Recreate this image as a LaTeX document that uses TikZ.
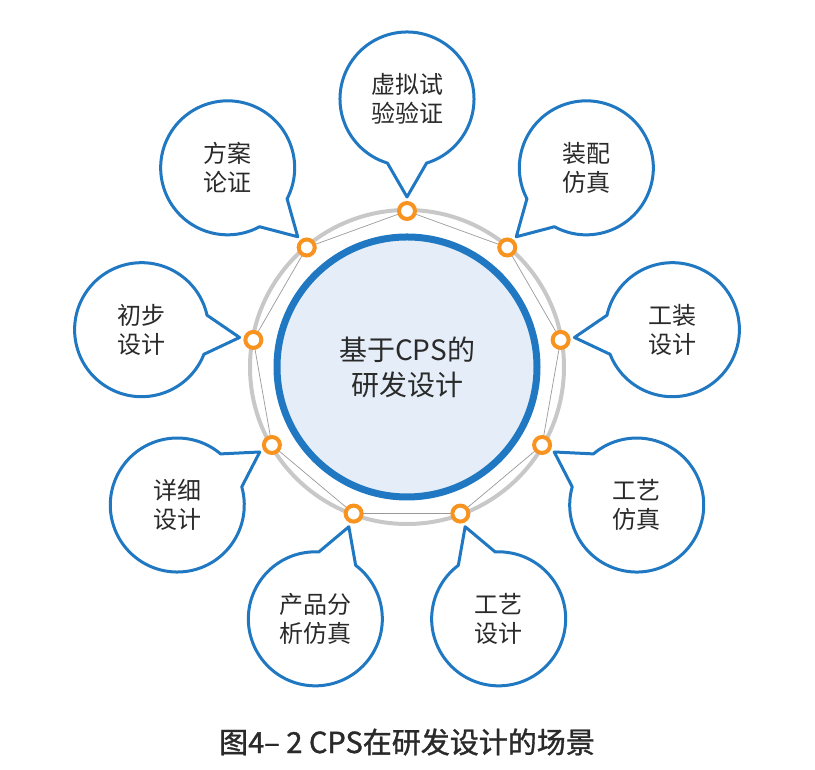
\documentclass[tikz,border=0pt]{standalone}
\usepackage{fontspec}
\newfontfamily\cjk{Noto Sans CJK SC}
\newfontfamily\capcjk{Noto Sans CJK SC}[FakeBold=1.2]
\usetikzlibrary{calc}
\definecolor{BubbleBlue}{HTML}{1F78C1}
\definecolor{JointOrange}{HTML}{F7931E}
\definecolor{RingGray}{HTML}{C8C8C8}
\definecolor{CoreFill}{HTML}{E5EEF8}
\definecolor{TextGray}{HTML}{2A2A2A}

\begin{document}
\begin{tikzpicture}[x=1pt, y=1pt,
    bubble/.style={draw=BubbleBlue, line width=3pt, fill=white, line join=round},
    joint/.style={circle, draw=JointOrange, line width=4pt, fill=white, inner sep=0pt, minimum size=16pt},
    bubtext/.style={font=\cjk\fontsize{24}{29}\selectfont, text=TextGray, align=center}]
    \useasboundingbox (0,0) rectangle (815,770);
    \coordinate (core) at (407,403);
    % ring and core
    \draw[RingGray, line width=4pt] (core) circle[radius=157];
    \fill[CoreFill] (core) circle[radius=130];
    \draw[BubbleBlue, line width=7pt] (core) circle[radius=130];
    \node[bubtext, font=\cjk\fontsize{28}{35}\selectfont] (core text) at (core) {基于CPS的\\研发设计};
    % joints on the ring
    \foreach \k in {0,...,8}
        \coordinate (p\k) at ($(core)+(90-40*\k:156)$);
    \draw[gray!80, line width=0.7pt] (p0) \foreach \k in {1,...,8}{ -- (p\k)} -- cycle;
    % speech bubbles
    \foreach \k/\ang/\txt in {0/90/{虚拟试\\验验证}, 1/48/{装配\\仿真}, 2/8/{工装\\设计},
            3/-31/{工艺\\仿真}, 4/-70/{工艺\\设计}, 5/-110/{产品分\\析仿真},
            6/-149/{详细\\设计}, 7/172/{初步\\设计}, 8/132/{方案\\论证}}{
        \coordinate (b\k) at ($(core)+(\ang:268)$);
        \coordinate (tip\k) at ($(core)+(90-40*\k:170)$);
        \draw[bubble] let \p1=($(tip\k)-(b\k)$), \n1={atan2(\y1,\x1)} in
            ($(b\k)+(\n1+17:67)$) arc[start angle=\n1+17, delta angle=326, radius=67]
            -- (tip\k) -- cycle;
        \node[bubtext] (t\k) at (b\k) {\txt};
    }
    \foreach \k in {0,...,8}
        \node[joint] (j\k) at (p\k) {};
    % caption
    \node[font=\capcjk\fontsize{29}{34}\selectfont, text=TextGray] (caption) at (407,28) {图4– 2 CPS在研发设计的场景};
\end{tikzpicture}
\end{document}
